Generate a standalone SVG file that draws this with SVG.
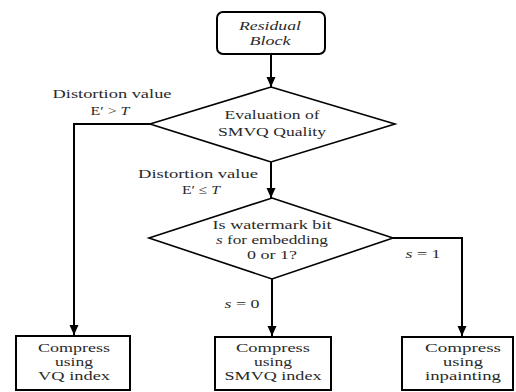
<svg xmlns="http://www.w3.org/2000/svg" width="516" height="392" viewBox="0 0 516 392">
<defs>
<marker id="ah" markerWidth="10" markerHeight="10" refX="10" refY="5" orient="auto" markerUnits="userSpaceOnUse"><path d="M0,0.5 L10,5 L0,9.5 Z" fill="#000"/></marker>
</defs>
<style>
text{font-family:'Liberation Serif','DejaVu Serif',serif;font-size:12.6px;fill:#2a2a2a;text-anchor:middle}
.i{font-style:italic}
.b{fill:#fff;stroke:#000;stroke-width:2}
.d{fill:#fff;stroke:#000;stroke-width:1.6}
.c{fill:none;stroke:#000;stroke-width:2}
</style>
<rect width="516" height="392" fill="#fff"/>
<g id="connectors">
<path class="c" d="M271,54 V87" marker-end="url(#ah)"/>
<path class="c" d="M271,162 V198" marker-end="url(#ah)"/>
<path class="c" d="M150,124 H74 V335" marker-end="url(#ah)"/>
<path class="c" d="M272,279 V336" marker-end="url(#ah)"/>
<path class="c" d="M393,238 H462 V336" marker-end="url(#ah)"/>
<text x="112" y="98" textLength="119" lengthAdjust="spacingAndGlyphs">Distortion value</text>
<text x="110" y="115" textLength="39" lengthAdjust="spacingAndGlyphs">E′ &gt; <tspan class="i">T</tspan></text>
<text x="198" y="178" textLength="120" lengthAdjust="spacingAndGlyphs">Distortion value</text>
<text x="201" y="194" textLength="38" lengthAdjust="spacingAndGlyphs">E′ ≤ <tspan class="i">T</tspan></text>
<text x="242" y="308" textLength="35" lengthAdjust="spacingAndGlyphs"><tspan class="i">s</tspan> = 0</text>
<text x="423" y="258" textLength="35" lengthAdjust="spacingAndGlyphs"><tspan class="i">s</tspan> = 1</text>
</g>
<g id="residual-block">
<rect class="b" x="217" y="12" width="108" height="42" rx="6"/>
<text class="i" x="270" y="30" textLength="62" lengthAdjust="spacingAndGlyphs">Residual</text>
<text class="i" x="270" y="45" textLength="41" lengthAdjust="spacingAndGlyphs">Block</text>
</g>
<g id="evaluation">
<polygon class="d" points="271,87 395,124 271,162 150,124"/>
<text x="272" y="119" textLength="95" lengthAdjust="spacingAndGlyphs">Evaluation of</text>
<text x="272" y="136" textLength="108" lengthAdjust="spacingAndGlyphs">SMVQ Quality</text>
</g>
<g id="watermark-decision">
<polygon class="d" points="272,198 393,238 272,279 149,238"/>
<text x="272" y="229" textLength="119" lengthAdjust="spacingAndGlyphs">Is watermark bit</text>
<text x="272" y="244" textLength="112" lengthAdjust="spacingAndGlyphs"><tspan class="i">s</tspan> for embedding</text>
<text x="272" y="259" textLength="50" lengthAdjust="spacingAndGlyphs">0 or 1?</text>
</g>
<g id="vq-index">
<rect class="b" x="16" y="336" width="114" height="54"/>
<text x="74" y="352" textLength="72" lengthAdjust="spacingAndGlyphs">Compress</text>
<text x="74" y="366" textLength="38" lengthAdjust="spacingAndGlyphs">using</text>
<text x="74" y="380" textLength="72" lengthAdjust="spacingAndGlyphs">VQ index</text>
</g>
<g id="smvq-index">
<rect class="b" x="215" y="337" width="116" height="53"/>
<text x="273" y="352" textLength="74" lengthAdjust="spacingAndGlyphs">Compress</text>
<text x="273" y="366" textLength="38" lengthAdjust="spacingAndGlyphs">using</text>
<text x="273" y="380" textLength="97" lengthAdjust="spacingAndGlyphs">SMVQ index</text>
</g>
<g id="inpainting">
<rect class="b" x="402" y="337" width="111" height="53"/>
<text x="463" y="352" textLength="76" lengthAdjust="spacingAndGlyphs">Compress</text>
<text x="463" y="366" textLength="40" lengthAdjust="spacingAndGlyphs">using</text>
<text x="463" y="380" textLength="76" lengthAdjust="spacingAndGlyphs">inpainting</text>
</g>
</svg>
